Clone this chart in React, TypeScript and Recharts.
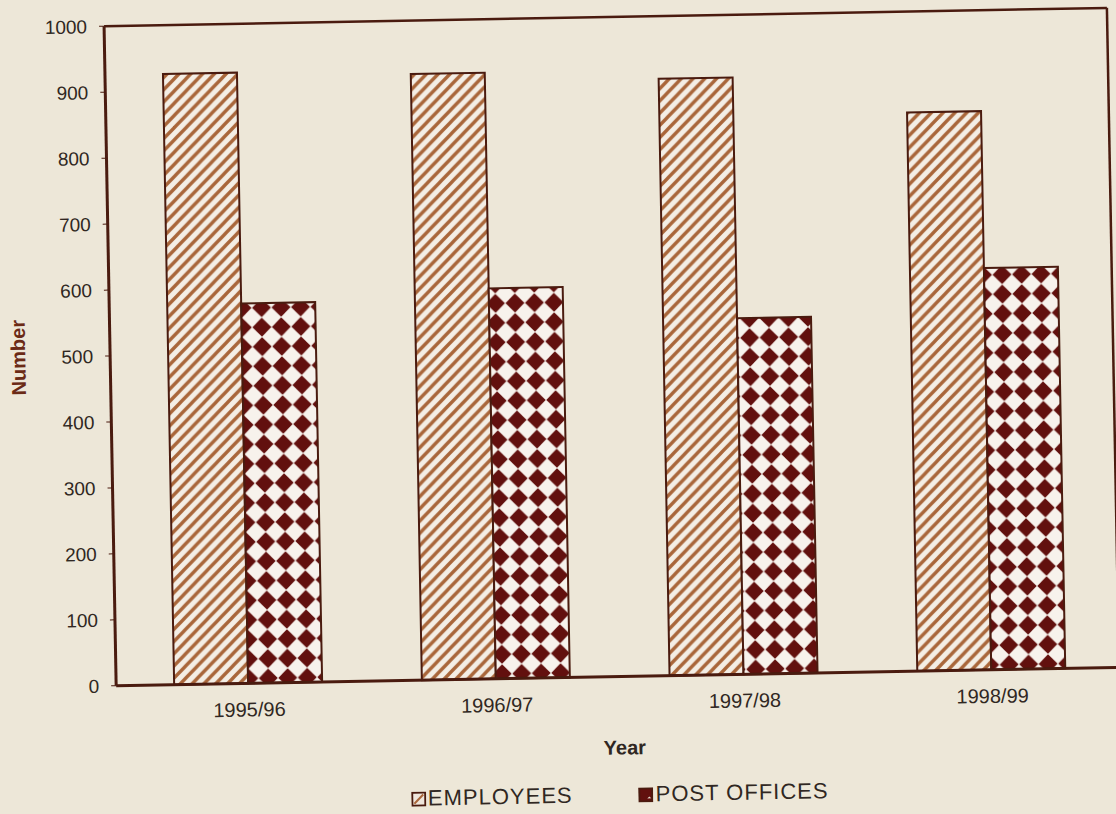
import React from "react";
import {
  BarChart,
  Bar,
  XAxis,
  YAxis,
  Legend,
  Label,
} from "recharts";

const years = ["1995/96", "1996/97", "1997/98", "1998/99"];
const employees = [926, 919, 905, 847];
const postOffices = [576, 592, 540, 609];
const yTicks = [0, 100, 200, 300, 400, 500, 600, 700, 800, 900, 1000];

const data = years.map((year, i) => ({
  year,
  employees: employees[i],
  postOffices: postOffices[i],
}));

const PAPER = "#ede7d8";
const PLOT_BG = "#f1ece0";
const LINE = "#4a1b0f";
const HATCH = "#a9663a";
const DIAMOND = "#62100e";
const TEXT = "#302722";
const FONT = '"Liberation Sans", Arial, sans-serif';

function LegendContent() {
  return (
    <div
      style={{
        display: "flex",
        justifyContent: "center",
        alignItems: "center",
        gap: 66,
        height: 30,
        fontFamily: FONT,
        fontSize: 22,
        letterSpacing: 1,
        color: TEXT,
      }}
    >
      <span style={{ display: "flex", alignItems: "center", gap: 2 }}>
        <svg width={15} height={15}>
          <rect x={1} y={1} width={13} height={13} fill="#efe6dc" stroke={LINE} strokeWidth={2} />
          <path d="M3,12 L12,3" stroke={HATCH} strokeWidth={2} />
        </svg>
        EMPLOYEES
      </span>
      <span style={{ display: "flex", alignItems: "center", gap: 2 }}>
        <svg width={15} height={15}>
          <rect x={1} y={1} width={13} height={13} fill={DIAMOND} stroke={LINE} strokeWidth={2} />
          <path d="M9,11 L11,9 L13,11 Z" fill="#e8dccf" />
        </svg>
        POST OFFICES
      </span>
    </div>
  );
}

export default function App() {
  return (
    <div
      style={{
        position: "absolute",
        left: 0,
        top: 0,
        width: 1116,
        height: 814,
        overflow: "hidden",
        background: PAPER,
      }}
    >
      <div
        style={{
          position: "absolute",
          left: 0,
          top: 0,
          width: 1116,
          height: 814,
          transform: "rotate(-1.05deg)",
          transformOrigin: "558px 400px",
        }}
      >
        <BarChart
          width={1116}
          height={814}
          data={data}
          margin={{ top: 17, right: 1, bottom: 3, left: 0 }}
          barGap={0}
          barSize={74}
        >
          <defs>
            <pattern id="hatch" patternUnits="userSpaceOnUse" width={12} height={12}>
              <rect width={12} height={12} fill="#f4eee5" />
              <path
                d="M-2,14 L14,-2 M-8,8 L8,-8 M4,20 L20,4"
                stroke={HATCH}
                strokeWidth={3.4}
              />
            </pattern>
            <pattern id="diamonds" patternUnits="userSpaceOnUse" width={19.5} height={19.5}>
              <rect width={19.5} height={19.5} fill="#f7f2ec" />
              <path d="M9.75,0.3 L19.2,9.75 L9.75,19.2 L0.3,9.75 Z" fill={DIAMOND} />
            </pattern>
          </defs>
          <XAxis
            dataKey="year"
            height={85}
            axisLine={{ stroke: LINE, strokeWidth: 3 }}
            tickLine={false}
            tickSize={6}
            tickMargin={13}
            padding={{ left: 8, right: 4 }}
            tick={{ fill: TEXT, fontSize: 20, fontFamily: FONT, dx: 1 }}
          >
            <Label
              value="Year"
              position="insideBottom"
              offset={7}
              dx={6}
              style={{ fontFamily: FONT, fontSize: 20, fontWeight: "bold", fill: TEXT }}
            />
          </XAxis>
          <XAxis
            xAxisId="top"
            dataKey="year"
            orientation="top"
            height={1}
            tick={false}
            tickLine={false}
            axisLine={{ stroke: LINE, strokeWidth: 2.5 }}
          />
          <YAxis
            width={111}
            domain={[0, 1000]}
            ticks={yTicks}
            interval={0}
            axisLine={{ stroke: LINE, strokeWidth: 3 }}
            tickLine={{ stroke: LINE, strokeWidth: 1 }}
            tickSize={5}
            tickMargin={12}
            tick={{ fill: TEXT, fontSize: 19, fontFamily: FONT }}
          >
            <Label
              value="Number"
              angle={-90}
              position="insideLeft"
              offset={19}
              style={{
                textAnchor: "middle",
                fontFamily: FONT,
                fontSize: 20,
                fontWeight: "bold",
                fill: "#6b2a16",
              }}
            />
          </YAxis>
          <YAxis
            yAxisId="right"
            orientation="right"
            width={1}
            domain={[0, 1000]}
            tick={false}
            tickLine={false}
            axisLine={{ stroke: LINE, strokeWidth: 2.5 }}
          />
          <Legend
            verticalAlign="bottom"
            height={30}
            wrapperStyle={{ left: 111, width: 1003 }}
            content={() => <LegendContent />}
          />
          <Bar
            dataKey="employees"
            name="EMPLOYEES"
            fill="url(#hatch)"
            stroke={LINE}
            strokeWidth={2}
            isAnimationActive={false}
          />
          <Bar
            dataKey="postOffices"
            name="POST OFFICES"
            fill="url(#diamonds)"
            stroke={LINE}
            strokeWidth={2}
            isAnimationActive={false}
          />
        </BarChart>
      </div>
    </div>
  );
}
